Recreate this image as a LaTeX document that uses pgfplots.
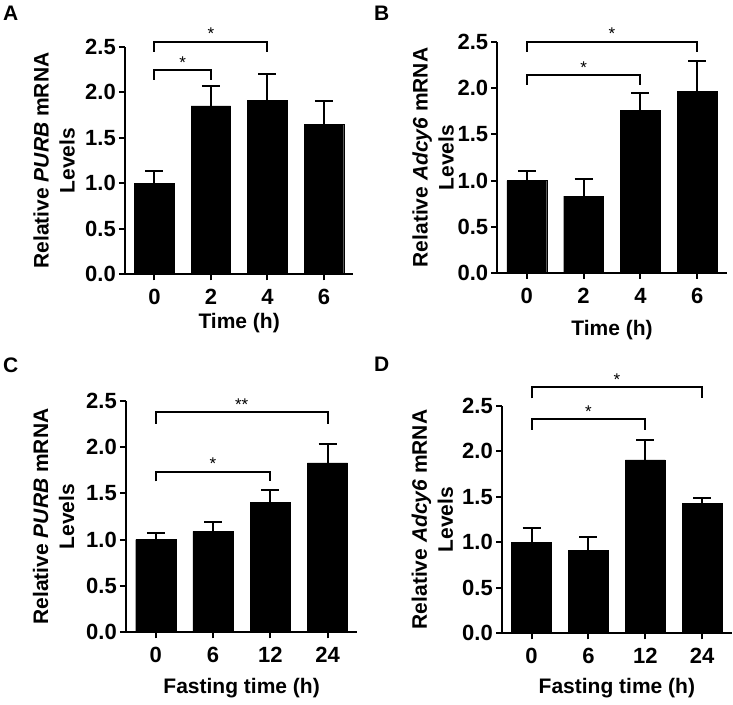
\documentclass[border=0pt]{standalone}
\usepackage{fontspec}
\setmainfont{Liberation Sans}
\usepackage{pgfplots}
\pgfplotsset{compat=1.18}

\pgfplotsset{
  gp/.style={
    scale only axis,
    anchor=south west,
    axis lines=left,
    axis line style={-, line width=2pt},
    every tick/.style={black, line width=2pt},
    major tick length=6pt,
    tick align=outside,
    xmin=-0.52, xmax=3.52,
    ymin=0, ymax=2.5,
    xtick={0,1,2,3},
    ytick={0,0.5,1,1.5,2,2.5},
    tick label style={font=\fontsize{22}{26}\selectfont\bfseries, inner sep=1pt},
    xticklabel style={yshift=-8pt},
    yticklabel style={xshift=-2pt},
    /pgf/number format/fixed,
    /pgf/number format/fixed zerofill,
    /pgf/number format/precision=1,
    /pgf/number format/assume math mode=true,
    label style={font=\fontsize{21}{26}\selectfont\bfseries, align=center},
    clip=false,
  },
  bars/.style={ybar, bar width=0.7, fill=black, draw=black, line width=0.4pt,
    error bars/.cd, y dir=plus, y explicit,
    error bar style={line width=2pt, black},
    error mark options={rotate=90, line width=2pt, mark size=9pt, black}},
}
\tikzset{
  br/.style={line width=2pt},
  st/.style={anchor=south, inner sep=0pt, yshift=2pt, font=\fontsize{17}{17}\selectfont},
  letter/.style={anchor=north west, inner sep=0pt, font=\fontsize{21}{21}\selectfont\bfseries},
}

\begin{document}
\begin{tikzpicture}
\useasboundingbox (0,0) rectangle (733pt,704pt);

% A
\begin{axis}[gp, at={(125pt,429.7pt)}, width=228.3pt, height=227.6pt,
  xticklabels={0,2,4,6},
  xlabel={Time (h)},
  xlabel style={at={(axis description cs:0.5,-0.215)}, anchor=center},
  ylabel={Relative \textit{PURB} mRNA\\Levels},
  ylabel style={at={(axis description cs:-0.31,0.5)}, anchor=center}]
\addplot[bars] table[x=x, y=y, y error=e] {
x y e
0 1.00 0.13
1 1.85 0.22
2 1.91 0.29
3 1.65 0.25
};
\draw[br] (axis cs:0,2.135) |- (axis cs:1,2.24) -- (axis cs:1,2.135);
\node[st] at (axis cs:0.5,2.24) {*};
\draw[br] (axis cs:0,2.446) |- (axis cs:2,2.556) -- (axis cs:2,2.446);
\node[st] at (axis cs:1,2.556) {*};
\end{axis}

% B
\begin{axis}[gp, at={(497.3pt,431.3pt)}, width=229.4pt, height=230.4pt,
  xticklabels={0,2,4,6},
  xlabel={Time (h)},
  xlabel style={at={(axis description cs:0.5,-0.248)}, anchor=center},
  ylabel={Relative \textit{Adcy6} mRNA\\Levels},
  ylabel style={at={(axis description cs:-0.28,0.5)}, anchor=center}]
\addplot[bars] table[x=x, y=y, y error=e] {
x y e
0 1.00 0.10
1 0.83 0.19
2 1.76 0.19
3 1.97 0.33
};
\draw[br] (axis cs:0,2.04) |- (axis cs:2,2.14) -- (axis cs:2,2.04);
\node[st] at (axis cs:1,2.14) {*};
\draw[br] (axis cs:0,2.40) |- (axis cs:3,2.504) -- (axis cs:3,2.40);
\node[st] at (axis cs:1.5,2.504) {*};
\end{axis}

% C
\begin{axis}[gp, at={(126pt,71.7pt)}, width=231.3pt, height=231.6pt,
  xticklabels={0,6,12,24},
  xlabel={Fasting time (h)},
  xlabel style={at={(axis description cs:0.5,-0.242)}, anchor=center},
  ylabel={Relative \textit{PURB} mRNA\\Levels},
  ylabel style={at={(axis description cs:-0.313,0.5)}, anchor=center}]
\addplot[bars] table[x=x, y=y, y error=e] {
x y e
0 1.00 0.07
1 1.09 0.10
2 1.40 0.14
3 1.83 0.20
};
\draw[br] (axis cs:0,1.63) |- (axis cs:2,1.734) -- (axis cs:2,1.63);
\node[st] at (axis cs:1,1.734) {*};
\draw[br] (axis cs:0,2.25) |- (axis cs:3,2.375) -- (axis cs:3,2.25);
\node[st] at (axis cs:1.5,2.375) {**};
\end{axis}

% D
\begin{axis}[gp, at={(502pt,70.7pt)}, width=229.7pt, height=227.6pt,
  xticklabels={0,6,12,24},
  xlabel={Fasting time (h)},
  xlabel style={at={(axis description cs:0.5,-0.242)}, anchor=center},
  ylabel={Relative \textit{Adcy6} mRNA\\Levels},
  ylabel style={at={(axis description cs:-0.303,0.5)}, anchor=center}]
\addplot[bars] table[x=x, y=y, y error=e] {
x y e
0 1.00 0.16
1 0.91 0.145
2 1.905 0.22
3 1.43 0.06
};
\draw[br] (axis cs:0,2.234) |- (axis cs:2,2.35) -- (axis cs:2,2.234);
\node[st] at (axis cs:1,2.35) {*};
\draw[br] (axis cs:0,2.58) |- (axis cs:3,2.70) -- (axis cs:3,2.58);
\node[st] at (axis cs:1.5,2.70) {*};
\end{axis}

\node[letter] at (3pt,698pt) {A};
\node[letter] at (374pt,698pt) {B};
\node[letter] at (3pt,346pt) {C};
\node[letter] at (374pt,347pt) {D};
\end{tikzpicture}
\end{document}
